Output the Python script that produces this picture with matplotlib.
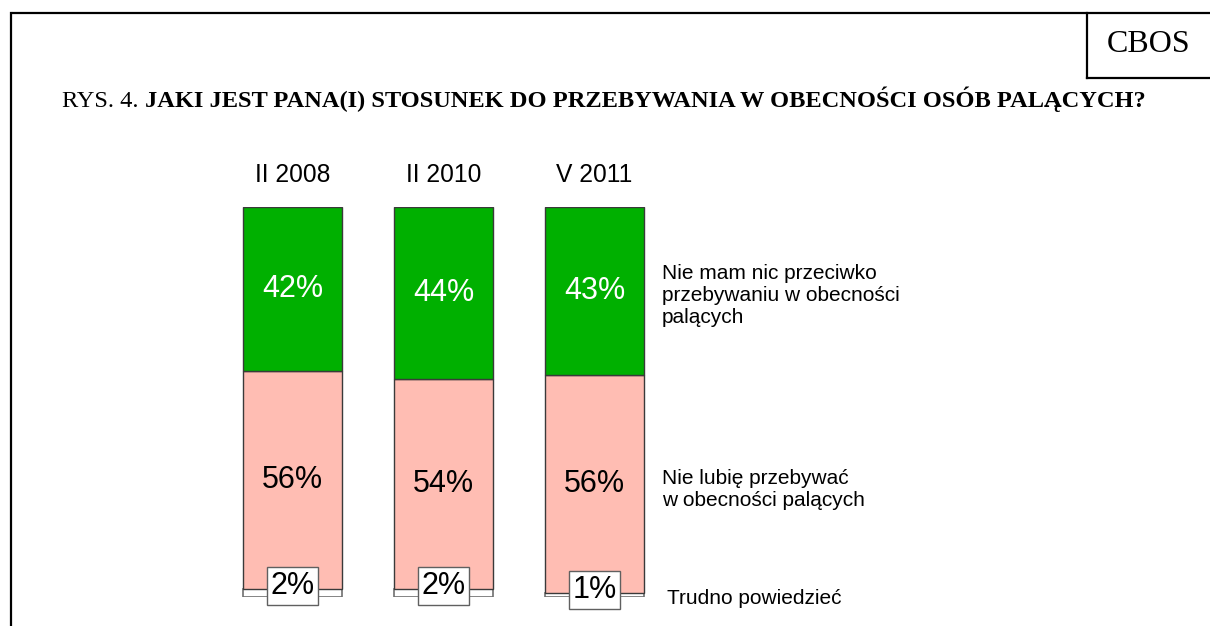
import matplotlib
matplotlib.use("Agg")
import matplotlib.pyplot as plt
from matplotlib.lines import Line2D

# survey waves and answer shares (%)
waves = ["II 2008", "II 2010", "V 2011"]
no_objection = [42, 44, 43]
dislike = [56, 54, 56]
hard_to_say = [2, 2, 1]

labels = ["Nie mam nic przeciwko\nprzebywaniu w obecności\npalących",
          "Nie lubię przebywać\nw obecności palących",
          "Trudno powiedzieć"]

green = "#00B000"
pink = "#FFBDB3"
edge = "#3a3a3a"
sans = "Liberation Sans"
serif = "Liberation Serif"

W, H = 1210, 626
fig = plt.figure(figsize=(W / 100, H / 100), dpi=100)

# frame lines and CBOS box
fig.add_artist(Line2D([13 / W, 1], [1 - 13 / H, 1 - 13 / H], color="black", lw=1.6))
fig.add_artist(Line2D([11 / W, 11 / W], [0, 1 - 13 / H], color="black", lw=1.6))
fig.add_artist(Line2D([1087 / W, 1087 / W], [1 - 78 / H, 1 - 13 / H], color="black", lw=1.6))
fig.add_artist(Line2D([1087 / W, 1], [1 - 78 / H, 1 - 78 / H], color="black", lw=1.6))
fig.text(1149 / W, 1 - 45 / H, "CBOS", family=serif, fontsize=23, ha="center", va="center")

# title: regular prefix + bold question, on a common baseline
t1 = fig.text(62 / W, 1 - 107 / H, "RYS. 4. ", family=serif, fontsize=17.6, va="baseline")
fig.canvas.draw()
bb = t1.get_window_extent()
fig.text(bb.x1 / W, 1 - 107 / H, "JAKI JEST PANA(I) STOSUNEK DO PRZEBYWANIA W OBECNOŚCI OSÓB PALĄCYCH?",
         family=serif, fontsize=17.6, fontweight="bold", va="baseline")

# bar axes: y 0..100 maps to pixels 597..207
ax = fig.add_axes([201.9 / W, (H - 597) / H, 483.2 / W, 390 / H])
ax.set_xlim(-0.6, 2.6)
ax.set_ylim(0, 100)
ax.axis("off")

x = range(len(waves))
bw = 0.65
ax.bar(x, hard_to_say, width=bw, color="white", edgecolor="#707070", lw=1.2)
ax.bar(x, dislike, width=bw, bottom=hard_to_say, color=pink, edgecolor=edge, lw=1)
bottoms = [a + b for a, b in zip(hard_to_say, dislike)]
ax.bar(x, no_objection, width=bw, bottom=bottoms, color=green, edgecolor=edge, lw=1)

for i in x:
    ax.text(i, 100 + 8.3, waves[i], family=sans, fontsize=17.7, ha="center", va="center")
    ax.text(i, bottoms[i] + no_objection[i] / 2, f"{no_objection[i]}%", family=sans,
            fontsize=22, color="white", ha="center", va="center")
    ax.text(i, hard_to_say[i] + dislike[i] / 2, f"{dislike[i]}%", family=sans,
            fontsize=22, ha="center", va="center")
    ax.text(i, hard_to_say[i] + 0.8, f"{hard_to_say[i]}%", family=sans, fontsize=22,
            ha="center", va="center", clip_on=False,
            bbox=dict(boxstyle="square,pad=0.12", fc="white", ec="#606060", lw=1))

fig.text(662 / W, 1 - 296 / H, labels[0], family=sans, fontsize=15, va="center", linespacing=1.2)
fig.text(662 / W, 1 - 490 / H, labels[1], family=sans, fontsize=15, va="center", linespacing=1.2)
fig.text(667 / W, 1 - 599 / H, labels[2], family=sans, fontsize=15, va="center")

fig.savefig("out.png", dpi=100)
